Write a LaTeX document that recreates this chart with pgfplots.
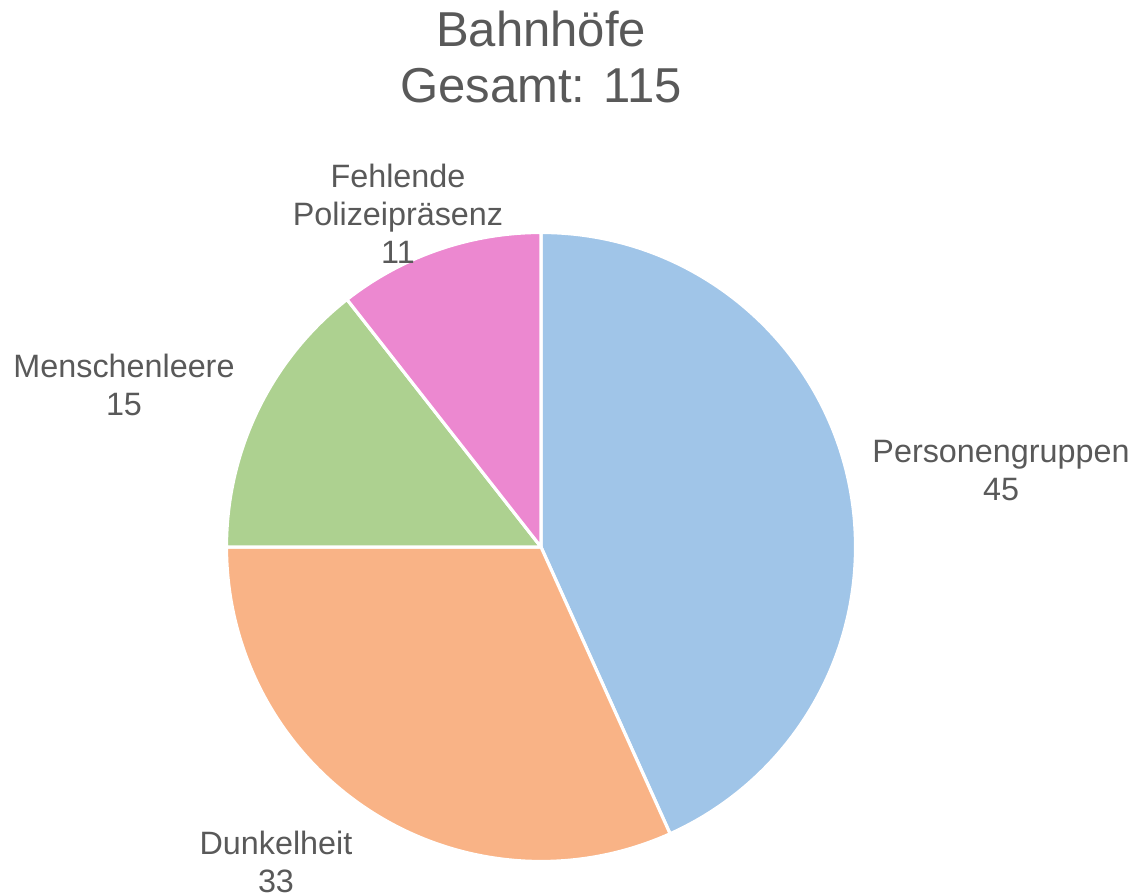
\documentclass[border=0pt]{standalone}
\usepackage{pgfplots}
\pgfplotsset{compat=1.18}
\usepackage{fontspec}
\setmainfont{Liberation Sans}
\definecolor{cblue}{HTML}{A0C5E8}
\definecolor{corange}{HTML}{F9B386}
\definecolor{cgreen}{HTML}{ADD190}
\definecolor{cpink}{HTML}{EC88D0}
\definecolor{ctext}{HTML}{595959}
% data
\def\vA{45}\def\vB{33}\def\vC{15}\def\vD{11}
\pgfmathsetmacro\tot{\vA+\vB+\vC+\vD}
\pgfmathsetmacro\aA{90}
\pgfmathsetmacro\aB{\aA-\vA/\tot*360}
\pgfmathsetmacro\aC{\aB-\vB/\tot*360}
\pgfmathsetmacro\aD{\aC-\vC/\tot*360}
\pgfmathsetmacro\aE{\aD-\vD/\tot*360}
\def\R{3.145cm}
\begin{document}
\begin{tikzpicture}
\begin{axis}[
  scale only axis, width=11.34cm, height=8.94cm,
  xmin=0, xmax=1134, ymin=0, ymax=894,
  hide axis, clip=false,
]
\path (axis cs:0,0) rectangle (axis cs:1134,894);
\filldraw[fill=cblue, draw=white, line width=0.9pt, line join=round] (axis cs:541,347) -- ++(\aA:\R) arc[start angle=\aA, end angle=\aB, radius=\R] -- cycle;
\filldraw[fill=corange, draw=white, line width=0.9pt, line join=round] (axis cs:541,347) -- ++(\aB:\R) arc[start angle=\aB, end angle=\aC, radius=\R] -- cycle;
\filldraw[fill=cgreen, draw=white, line width=0.9pt, line join=round] (axis cs:541,347) -- ++(\aC:\R) arc[start angle=\aC, end angle=\aD, radius=\R] -- cycle;
\filldraw[fill=cpink, draw=white, line width=0.9pt, line join=round] (axis cs:541,347) -- ++(\aD:\R) arc[start angle=\aD, end angle=\aE, radius=\R] -- cycle;
\begin{scope}[every node/.style={inner sep=0pt, text=ctext, align=center}]
\node[font=\fontsize{13.95}{16.2}\selectfont] at (axis cs:541,837) {Bahnhöfe\\Gesamt: 115};
\node[font=\fontsize{9.2}{10.8}\selectfont] at (axis cs:1001,423) {Personengruppen\\\vA};
\node[font=\fontsize{9.2}{10.8}\selectfont] at (axis cs:276,32) {Dunkelheit\\\vB};
\node[font=\fontsize{9.2}{10.8}\selectfont] at (axis cs:124,509) {Menschenleere\\\vC};
\node[font=\fontsize{9.2}{10.8}\selectfont] at (axis cs:398,680) {Fehlende\\Polizeipräsenz\\\vD};
\end{scope}
\end{axis}
\end{tikzpicture}
\end{document}
